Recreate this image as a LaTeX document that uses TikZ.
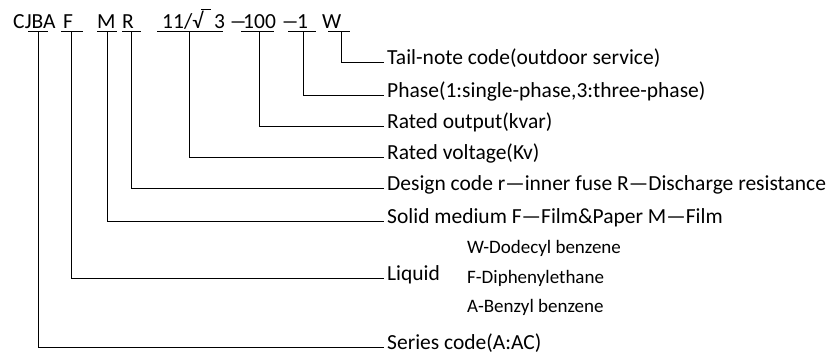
\documentclass[tikz,border=0pt]{standalone}
\usepackage{fontspec}
\setmainfont{Carlito}
\usepackage{tikz}

\tikzset{
  codetext/.style={anchor=base west,inner sep=0pt,font=\fontsize{21.5}{25}\selectfont},
  notetext/.style={anchor=west,inner sep=3pt,text height=0.75em,text depth=0.25em,font=\fontsize{21.5}{25}\selectfont},
  subtext/.style={anchor=west,inner sep=0pt,font=\fontsize{19}{23}\selectfont},
  tap/.style={line width=1pt}
}

\begin{document}
\begin{tikzpicture}
[x=1pt,y=-1pt]
\useasboundingbox (0,0) rectangle (830,354);

% the type code
\node[codetext](cjba) at (13,28) {CJBA};
\node[codetext](fl) at (63,28) {F};
\node[codetext](ms) at (97,28) {M};
\node[codetext](rd) at (122,28) {R};
\node[codetext](volt) at (162,28) {11/√};
\node[codetext](three) at (214,28) {3};
\node[codetext](dasha) at (229,28) {\scalebox{1.7}[1]{–}};
\node[codetext](out) at (243,28) {100};
\node[codetext](dashb) at (281,28) {\scalebox{1.7}[1]{–}};
\node[codetext](ph) at (297,28) {1};
\node[codetext](wt) at (322,28) {W};
\draw[line width=0.8pt] (201,9) -- (211,9);

% underlines
\draw[tap] (28,31) -- (48,31);
\draw[tap] (61,31) -- (83,31);
\draw[tap] (97,31) -- (117,31);
\draw[tap] (122,31) -- (141,31);
\draw[tap] (157,31) -- (223,31);
\draw[tap] (241,31) -- (274,31);
\draw[tap] (288,31) -- (316,31);
\draw[tap] (328,31) -- (350,31);

\coordinate(tcjba) at (38,31);
\coordinate(tfl) at (71,31);
\coordinate(tms) at (107,31);
\coordinate(trd) at (131,31);
\coordinate(tvolt) at (189,31);
\coordinate(tout) at (259,31);
\coordinate(tph) at (303,31);
\coordinate(twt) at (341,31);

% notes
\node[notetext](ntail) at (384,62) {Tail-note code(outdoor service)};
\node[notetext](nphase) at (384,95) {Phase(1:single-phase,3:three-phase)};
\node[notetext](noutput) at (384,126) {Rated output(kvar)};
\node[notetext](nvolt) at (384,157) {Rated voltage(Kv)};
\node[notetext](ndesign) at (384,188) {Design code r—inner fuse R—Discharge resistance};
\node[notetext](nsolid) at (384,221) {Solid medium F—Film\&Paper M—Film};
\node[notetext](nliquid) at (384,278) {Liquid};
\node[notetext](nseries) at (384,347) {Series code(A:AC)};

\node[subtext](lw) at (467,248) {W-Dodecyl benzene};
\node[subtext](lf) at (467,278) {F-Diphenylethane};
\node[subtext](la) at (467,307) {A-Benzyl benzene};

\draw[tap] (twt) |- (ntail.west);
\draw[tap] (tph) |- (nphase.west);
\draw[tap] (tout) |- (noutput.west);
\draw[tap] (tvolt) |- (nvolt.west);
\draw[tap] (trd) |- (ndesign.west);
\draw[tap] (tms) |- (nsolid.west);
\draw[tap] (tfl) |- (nliquid.west);
\draw[tap] (tcjba) |- (nseries.west);

\end{tikzpicture}
\end{document}
